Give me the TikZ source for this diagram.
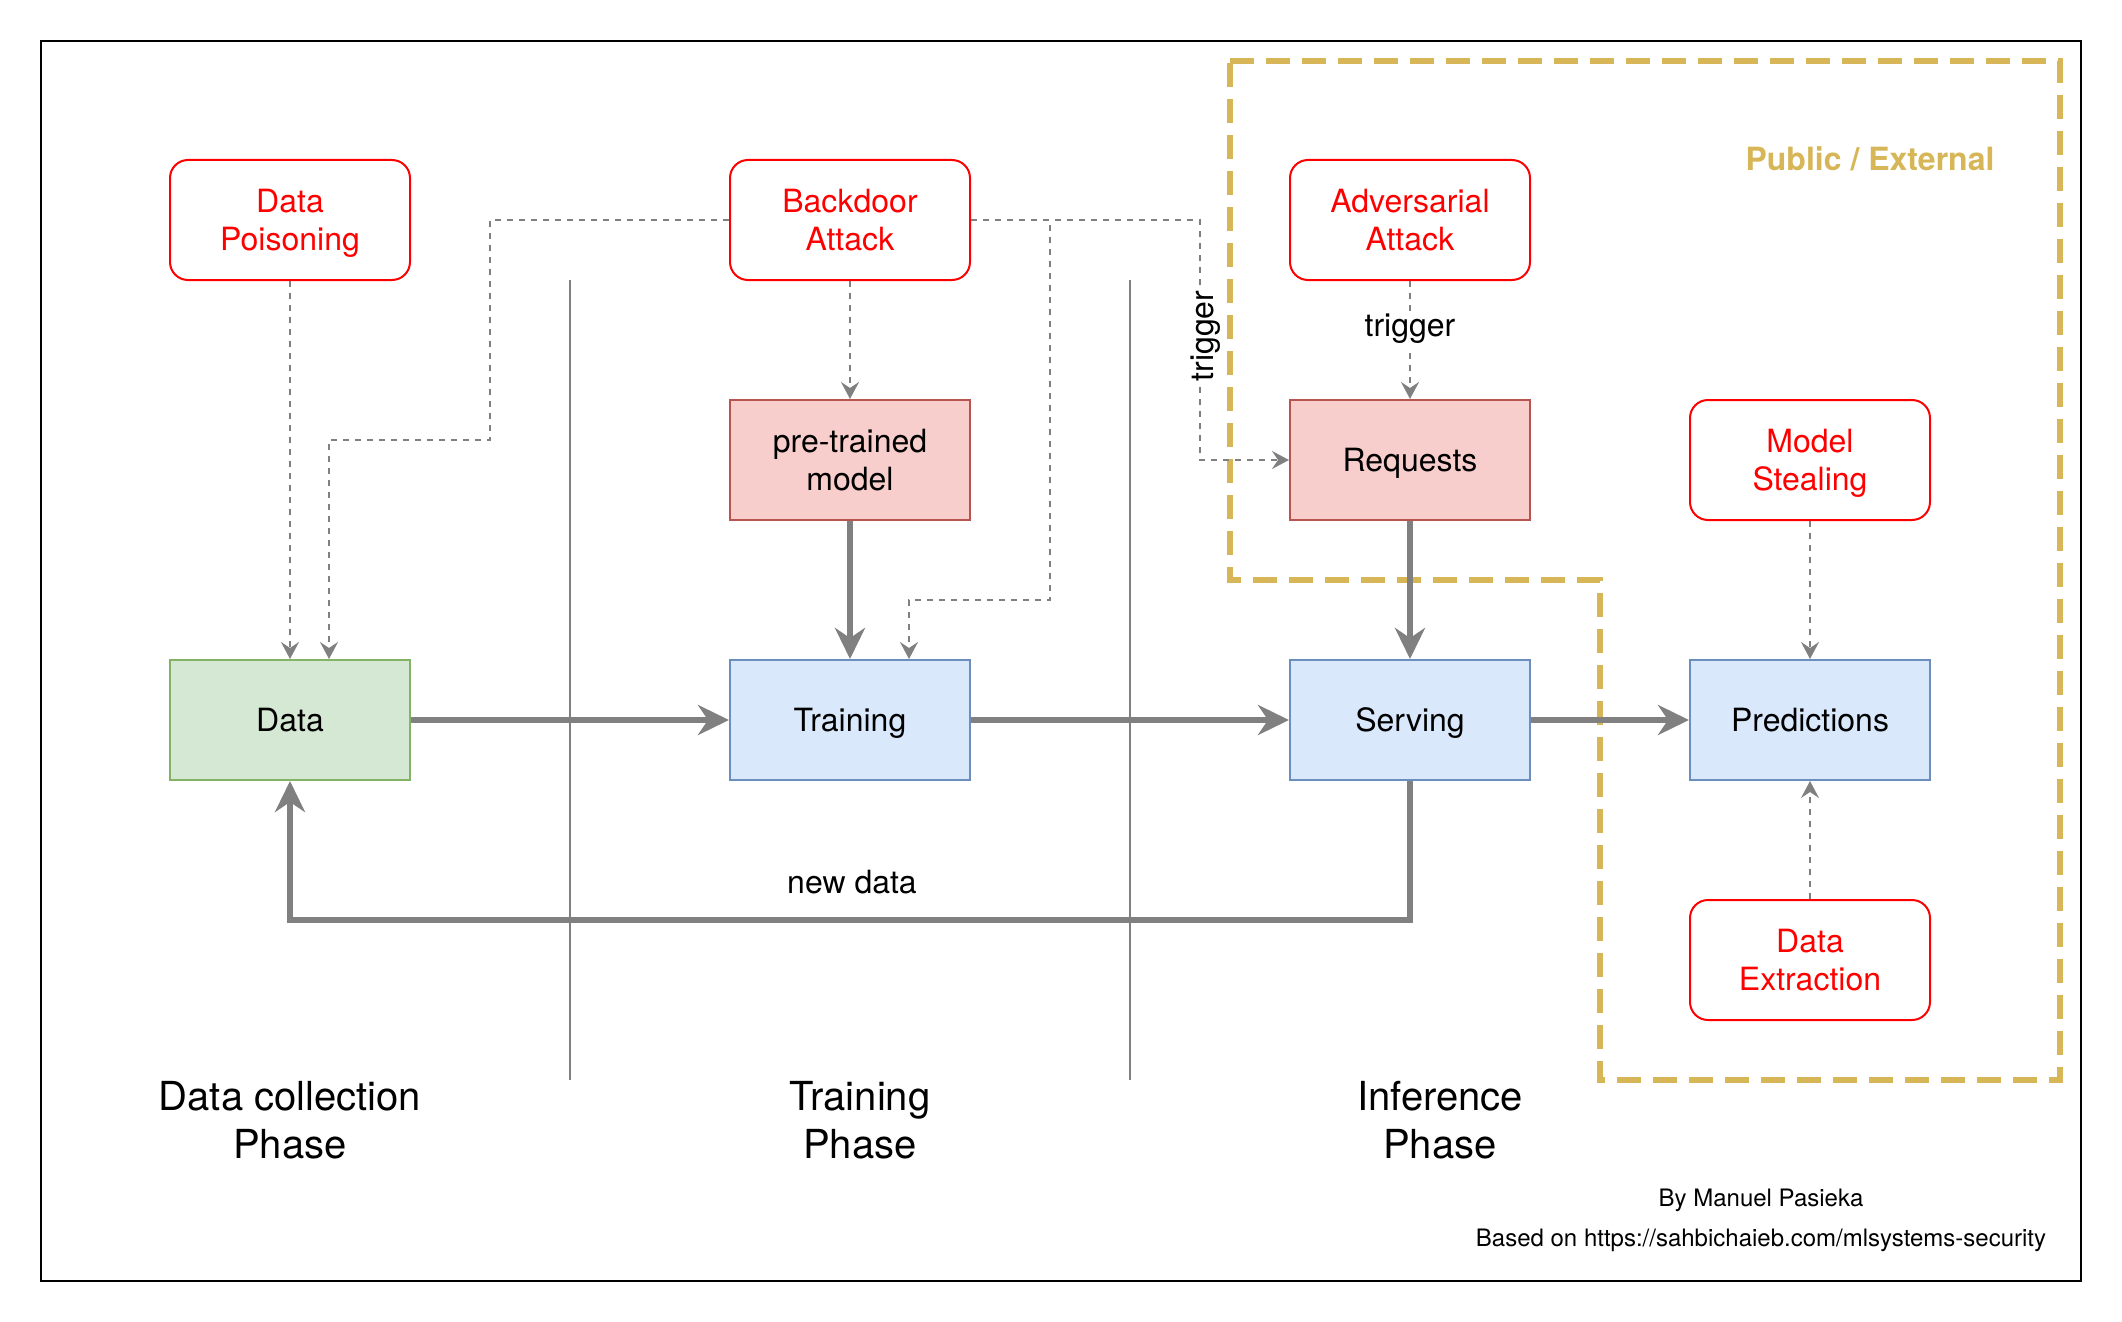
\documentclass[tikz,border=0pt]{standalone}
\usepackage{fontspec}
\setmainfont{TeX Gyre Heros}
\usetikzlibrary{arrows.meta}
\definecolor{attackred}{HTML}{FF0000}
\definecolor{pinkfill}{HTML}{F8CECC}
\definecolor{pinkline}{HTML}{B85450}
\definecolor{bluefill}{HTML}{DAE8FC}
\definecolor{blueline}{HTML}{6C8EBF}
\definecolor{greenfill}{HTML}{D5E8D4}
\definecolor{greenline}{HTML}{82B366}
\definecolor{goldc}{HTML}{D6B656}
\definecolor{connc}{HTML}{808080}
\newcommand{\fsixteen}{\fontsize{16}{19.2}\selectfont}
\newcommand{\ftwenty}{\fontsize{20}{24}\selectfont}
\newcommand{\ftwelve}{\fontsize{12}{14.4}\selectfont}
\tikzset{
  basebox/.style={minimum width=120pt, minimum height=60pt, inner sep=0pt,
    align=center, line width=1pt, font=\fsixteen, text depth=0pt},
  attackbox/.style={basebox, draw=attackred, text=attackred, fill=white, rounded corners=9pt},
  pinkbox/.style={basebox, draw=pinkline, fill=pinkfill},
  bluebox/.style={basebox, draw=blueline, fill=bluefill},
  greenbox/.style={basebox, draw=greenline, fill=greenfill},
  dasharr/.style={draw=connc, line width=1pt, dash pattern=on 3pt off 3pt,
    -{Stealth[length=8.5pt, width=9pt, inset=3pt]}},
  thickarr/.style={draw=connc, line width=3pt,
    -{Stealth[length=15.5pt, width=15pt, inset=5pt]}},
  seprule/.style={draw=connc, line width=1pt},
  phaselabel/.style={align=center, font=\ftwenty, inner sep=0pt},
  conlabel/.style={font=\fsixteen, fill=white, inner sep=1.5pt},
}
\begin{document}
\begin{tikzpicture}[x=1pt,y=-1pt]
\useasboundingbox (0,0) rectangle (1061,661);
% outer frame
\draw[line width=1.2pt] (20.5,20.5) rectangle (1040.5,640.5);
% public / external zone
\draw[goldc, line width=3pt, dash pattern=on 12pt off 6pt]
  (615,30.5) -- (1030,30.5) -- (1030,540) -- (800,540) -- (800,290) -- (615,290) -- cycle;
\node[font=\fsixteen\bfseries, text=goldc] (pub) at (935,79.5) {Public / External};
% phase separators
\draw[seprule] (285,140) -- (285,540);
\draw[seprule] (565,140) -- (565,540);
% nodes
\node[attackbox] (dp) at (145,110) {Data\\Poisoning};
\node[attackbox] (ba) at (425,110) {Backdoor\\Attack};
\node[attackbox] (aa) at (705,110) {Adversarial\\Attack};
\node[pinkbox] (pm) at (425,230) {pre-trained\\model};
\node[pinkbox] (req) at (705,230) {Requests};
\node[attackbox] (ms) at (905,230) {Model\\Stealing};
\node[greenbox] (data) at (145,360) {Data};
\node[bluebox] (train) at (425,360) {Training};
\node[bluebox] (serv) at (705,360) {Serving};
\node[bluebox] (pred) at (905,360) {Predictions};
\node[attackbox] (de) at (905,480) {Data\\Extraction};
% bend points
\coordinate (b1) at (245,220);
\coordinate (b2) at (525,300);
\coordinate (b3) at (600,230);
\coordinate (fb) at (145,460);
% dashed attack connectors
\draw[dasharr] (dp.south) -- (data.north);
\draw[dasharr] (ba.west) -| (b1) -| ([xshift=80pt]data.north west);
\draw[dasharr] (ba.east) -| (b2) -| ([xshift=90pt]train.north west);
\draw[dasharr] (ba.east) -| (b3) -- (req.west);
\node[conlabel, rotate=90] (trig1) at (603,168) {trigger};
\draw[dasharr] (ba.south) -- (pm.north);
\draw[dasharr] (aa.south) -- node[conlabel, pos=0.405] (trig2) {trigger} (req.north);
\draw[dasharr] (ms.south) -- (pred.north);
\draw[dasharr] (de.north) -- (pred.south);
% main flow
\draw[thickarr] (pm.south) -- (train.north);
\draw[thickarr] (req.south) -- (serv.north);
\draw[thickarr] (data.east) -- (train.west);
\draw[thickarr] (train.east) -- (serv.west);
\draw[thickarr] (serv.east) -- (pred.west);
\draw[thickarr] (serv.south) |- (fb) -- (data.south);
\node[font=\fsixteen] (nd) at (426,441) {new data};
% phase labels
\node[phaselabel] (ph1) at (145,560) {Data collection\\Phase};
\node[phaselabel] (ph2) at (430,560) {Training\\Phase};
\node[phaselabel] (ph3) at (720,560) {Inference\\Phase};
% footer
\node[font=\ftwelve] (by) at (880.5,600) {By Manuel Pasieka};
\node[font=\ftwelve] (based) at (880.5,620) {Based on https://sahbichaieb.com/mlsystems-security};
\end{tikzpicture}
\end{document}
